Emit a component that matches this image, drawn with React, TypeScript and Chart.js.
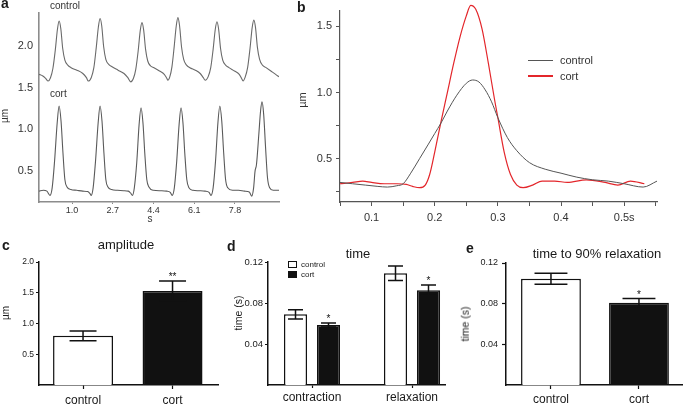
import React, { useEffect, useRef } from "react";
import { Chart, registerables } from "chart.js";

Chart.register(...registerables);

const FONT = '"Liberation Sans", Arial, Helvetica, sans-serif';

// ---------------- Panel a: sarcomere traces ----------------
const aXTicks = [1.0, 2.7, 4.4, 6.1, 7.8];
const aYTicks = [0.5, 1.0, 1.5, 2.0];
const aControlT = [
  -0.38, -0.22, -0.1, 0.0, 0.1, 0.2, 0.3, 0.39, 0.46, 0.53, 0.61, 0.7, 0.82, 0.96, 1.2, 1.45, 1.6, 1.68,
  1.8, 1.91, 2.01, 2.1, 2.17, 2.24, 2.32, 2.41, 2.53, 2.67, 2.92, 3.17, 3.33, 3.45,
  3.56, 3.66, 3.76, 3.85, 3.92, 3.99, 4.07, 4.16, 4.28, 4.42, 4.65, 4.85, 4.96, 5.0,
  5.08, 5.17, 5.26, 5.35, 5.42, 5.49, 5.57, 5.66, 5.78, 5.92, 6.15, 6.35, 6.48, 6.56,
  6.68, 6.79, 6.89, 6.98, 7.05, 7.12, 7.2, 7.29, 7.41, 7.55, 7.78, 7.98, 8.08, 8.14,
  8.22, 8.33, 8.43, 8.52, 8.59, 8.66, 8.74, 8.83, 8.95, 9.1, 9.3, 9.5, 9.64,
];
const aControlV = [
  1.66, 1.64, 1.61, 1.58, 1.62, 1.73, 1.95, 2.2, 2.3, 2.21, 1.97, 1.83, 1.77, 1.74, 1.71, 1.67, 1.62, 1.58,
  1.62, 1.74, 1.98, 2.23, 2.33, 2.24, 1.99, 1.84, 1.78, 1.75, 1.71, 1.67, 1.62, 1.57,
  1.61, 1.72, 1.94, 2.19, 2.28, 2.19, 1.96, 1.82, 1.76, 1.74, 1.7, 1.66, 1.61, 1.59,
  1.63, 1.75, 1.98, 2.24, 2.34, 2.24, 1.99, 1.84, 1.77, 1.74, 1.71, 1.67, 1.62, 1.59,
  1.63, 1.74, 1.96, 2.2, 2.29, 2.2, 1.97, 1.83, 1.77, 1.74, 1.7, 1.66, 1.61, 1.58,
  1.62, 1.74, 1.97, 2.22, 2.31, 2.22, 1.98, 1.84, 1.77, 1.74, 1.7, 1.66, 1.63,
];
const aCortT = [
  -0.38, -0.2, -0.05, 0.08, 0.17, 0.27, 0.38, 0.46, 0.54, 0.62, 0.7, 0.79, 0.95, 1.2, 1.45, 1.65, 1.75,
  1.8, 1.88, 1.98, 2.09, 2.17, 2.25, 2.33, 2.41, 2.5, 2.65, 2.9, 3.15, 3.35, 3.45,
  3.52, 3.6, 3.7, 3.8, 3.88, 3.96, 4.04, 4.12, 4.21, 4.4, 4.7, 4.95, 5.1,
  5.18, 5.27, 5.37, 5.47, 5.55, 5.63, 5.71, 5.79, 5.88, 6.05, 6.3, 6.55, 6.72,
  6.8, 6.89, 6.99, 7.09, 7.17, 7.25, 7.33, 7.41, 7.5, 7.7, 7.95, 8.2, 8.4,
  8.5, 8.58, 8.64, 8.7, 8.8, 8.87, 8.93, 9.0, 9.08, 9.16, 9.25, 9.4, 9.64,
];
const aCortV = [
  0.26, 0.27, 0.26, 0.21, 0.3, 0.62, 1.08, 1.28, 1.1, 0.72, 0.4, 0.31, 0.28, 0.27, 0.26, 0.255, 0.23,
  0.21, 0.3, 0.62, 1.08, 1.28, 1.1, 0.72, 0.4, 0.31, 0.28, 0.27, 0.265, 0.26, 0.235,
  0.21, 0.3, 0.6, 1.06, 1.26, 1.08, 0.7, 0.4, 0.31, 0.27, 0.265, 0.26, 0.245,
  0.21, 0.3, 0.62, 1.06, 1.26, 1.08, 0.7, 0.4, 0.3, 0.27, 0.265, 0.26, 0.245,
  0.21, 0.3, 0.62, 1.08, 1.28, 1.1, 0.72, 0.4, 0.3, 0.27, 0.27, 0.26, 0.25,
  0.2, 0.3, 0.5, 0.58, 0.95, 1.22, 1.33, 1.18, 0.78, 0.42, 0.3, 0.27, 0.27,
];

// ---------------- Panel b: averaged transient ----------------
const bXTicks = [0.05, 0.1, 0.15, 0.2, 0.25, 0.3, 0.35, 0.4, 0.45, 0.5, 0.55];
const bYTicks = [0.25, 0.5, 0.75, 1.0, 1.25, 1.5];
const bControlT = [
  0.05, 0.07, 0.09, 0.11, 0.125, 0.14, 0.15, 0.162, 0.176, 0.19, 0.2, 0.21, 0.22, 0.235, 0.25, 0.26,
  0.27, 0.28, 0.29, 0.3, 0.315, 0.33, 0.35, 0.375, 0.4, 0.425, 0.45, 0.475, 0.5, 0.53, 0.552,
];
const bControlV = [
  0.32, 0.31, 0.3, 0.29, 0.285, 0.295, 0.31, 0.39, 0.5, 0.61, 0.69, 0.77, 0.86, 0.98, 1.07, 1.095,
  1.08, 1.02, 0.93, 0.81, 0.66, 0.56, 0.47, 0.42, 0.39, 0.36, 0.34, 0.33, 0.31, 0.285, 0.33,
];
const bCortT = [
  0.05, 0.07, 0.086, 0.1, 0.12, 0.14, 0.155, 0.165, 0.176, 0.185, 0.192, 0.2, 0.21, 0.22, 0.23, 0.24,
  0.25, 0.257, 0.265, 0.275, 0.285, 0.295, 0.3, 0.31, 0.32, 0.33, 0.34, 0.355, 0.37, 0.39, 0.41,
  0.44, 0.47, 0.49, 0.51, 0.532,
];
const bCortV = [
  0.31, 0.32, 0.33, 0.32, 0.31, 0.31, 0.305, 0.29, 0.28, 0.3, 0.38, 0.55, 0.78, 1.0, 1.22, 1.42,
  1.58, 1.66, 1.63, 1.48, 1.22, 0.94, 0.81, 0.55, 0.38, 0.3, 0.28, 0.3, 0.33, 0.33, 0.32,
  0.34, 0.32, 0.3, 0.33, 0.31,
];

// ---------------- Panel c: amplitude ----------------
const cGroups = ["control", "cort"];
const cMeans = [0.8, 1.53];
const cErrs = [0.08, 0.16];
const cSig = ["", "**"];
const cYTicks = [0.5, 1.0, 1.5, 2.0];

// ---------------- Panel d: time ----------------
const dGroups = ["contraction", "relaxation"];
const dControlMeans = [0.069, 0.109];
const dControlErrs = [0.0045, 0.007];
const dCortMeans = [0.0585, 0.0925];
const dCortErrs = [0.002, 0.005];
const dCortSig = ["*", "*"];
const dYTicks = [0.04, 0.08, 0.12];

// ---------------- Panel e: time to 90% relaxation ----------------
const eGroups = ["control", "cort"];
const eMeans = [0.1045, 0.081];
const eErrs = [0.0053, 0.004];
const eSig = ["", "*"];
const eYTicks = [0.04, 0.08, 0.12];

// ---------------- helpers ----------------
const CW = 685;
const CH = 405;
const pad = (l: number, r: number, t: number, b: number, yW: number, xH: number) => ({
  left: l - yW,
  right: CW - r,
  top: t,
  bottom: CH - b - xH,
});
const setTicks = (vals: number[]) => (s: any) => {
  s.ticks = vals.map((v) => ({ value: v }));
};
const fixW = (w: number) => (s: any) => {
  s.width = w;
};
const fixH = (h: number) => (s: any) => {
  s.height = h;
};
const pts = (xs: number[], ys: number[]) => xs.map((x, i) => ({ x, y: ys[i] }));

const baseOpts = (padding: any) => ({
  animation: false as const,
  responsive: false,
  events: [] as any[],
  layout: { padding },
  plugins: { legend: { display: false }, tooltip: { enabled: false }, title: { display: false } },
});

function errorBars(errs: number[][], sigs: string[][], capFrac: number, sigSize: number) {
  return {
    id: "errorBars",
    afterDatasetsDraw(chart: any) {
      const ctx = chart.ctx;
      const ys = chart.scales.y;
      chart.data.datasets.forEach((ds: any, di: number) => {
        const meta = chart.getDatasetMeta(di);
        meta.data.forEach((bar: any, i: number) => {
          const m = ds.data[i].y;
          const e = errs[di][i];
          const x = bar.x;
          const cw = bar.width * capFrac;
          const top = ys.getPixelForValue(m + e);
          const bot = ys.getPixelForValue(m - e);
          ctx.save();
          ctx.strokeStyle = "#111";
          ctx.lineWidth = 1.5;
          ctx.beginPath();
          ctx.moveTo(x, top);
          ctx.lineTo(x, bot);
          ctx.moveTo(x - cw / 2, top);
          ctx.lineTo(x + cw / 2, top);
          ctx.moveTo(x - cw / 2, bot);
          ctx.lineTo(x + cw / 2, bot);
          ctx.stroke();
          const s = sigs[di] && sigs[di][i];
          if (s) {
            ctx.fillStyle = "#111";
            ctx.font = `${sigSize}px ${FONT}`;
            ctx.textAlign = "center";
            ctx.textBaseline = "alphabetic";
            ctx.fillText(s, x, top - 1);
          }
          ctx.restore();
        });
      });
    },
  };
}

const barAxisX = (min: number, max: number, labels: string[], tickLen: number, tickPad: number, fontSize: number) => ({
  type: "linear" as const,
  min,
  max,
  bounds: "data" as const,
  offset: false,
  afterBuildTicks: setTicks([1, 2]),
  afterFit: fixH(20),
  ticks: {
    callback: (v: any) => labels[Math.round(Number(v)) - 1],
    font: { family: FONT, size: fontSize },
    color: "#1a1a1a",
    padding: tickPad,
    maxRotation: 0,
    autoSkip: false,
  },
  grid: {
    display: true,
    offset: false,
    drawOnChartArea: false,
    tickLength: tickLen,
    tickColor: "#111",
    tickWidth: 1.2,
  },
  border: { display: true, color: "#111", width: 1.5 },
});

const barAxisY = (max: number, ticksVals: number[], digits: number, fontSize: number, tickLen: number, tickPad: number) => ({
  type: "linear" as const,
  min: 0,
  max,
  bounds: "data" as const,
  afterBuildTicks: setTicks(ticksVals),
  afterFit: fixW(30),
  ticks: {
    callback: (v: any) => Number(v).toFixed(digits),
    font: { family: FONT, size: fontSize },
    color: "#1a1a1a",
    padding: tickPad,
  },
  grid: {
    display: true,
    drawOnChartArea: false,
    tickLength: tickLen,
    tickColor: "#111",
    tickWidth: 1.2,
  },
  border: { display: true, color: "#111", width: 1.5 },
});

// ---------------- chart configs ----------------
function configA(): any {
  return {
    type: "line",
    data: {
      datasets: [
        { data: pts(aControlT, aControlV), borderColor: "#6a6a6a", borderWidth: 1.1, pointRadius: 0, cubicInterpolationMode: "monotone", fill: false },
        { data: pts(aCortT, aCortV), borderColor: "#5a5a5a", borderWidth: 1.1, pointRadius: 0, cubicInterpolationMode: "monotone", fill: false },
      ],
    },
    options: {
      ...baseOpts(pad(39, 279, 7, 202, 34, 20)),
      scales: {
        x: {
          type: "linear",
          min: -0.38,
          max: 9.64,
          bounds: "data",
          afterBuildTicks: setTicks(aXTicks),
          afterFit: fixH(20),
          ticks: { callback: (v: any) => Number(v).toFixed(1), font: { family: FONT, size: 9 }, color: "#333", padding: 1, maxRotation: 0, autoSkip: false },
          grid: { display: true, drawOnChartArea: false, tickLength: 2, tickColor: "#888", tickWidth: 1 },
          border: { display: true, color: "#8c8c8c", width: 1.6 },
        },
        y: {
          type: "linear",
          min: 0.13,
          max: 2.4,
          bounds: "data",
          afterBuildTicks: setTicks(aYTicks),
          afterFit: fixW(34),
          ticks: { callback: (v: any) => Number(v).toFixed(1), font: { family: FONT, size: 11 }, color: "#333", padding: 6 },
          grid: { display: true, drawOnChartArea: false, drawTicks: false },
          border: { display: true, color: "#8c8c8c", width: 1.6 },
        },
      },
    },
  };
}

function configB(): any {
  return {
    type: "line",
    data: {
      datasets: [
        { data: pts(bControlT, bControlV), borderColor: "#555", borderWidth: 1, pointRadius: 0, cubicInterpolationMode: "monotone", fill: false, clip: 10 },
        { data: pts(bCortT, bCortV), borderColor: "#e3262b", borderWidth: 1.2, pointRadius: 0, cubicInterpolationMode: "monotone", fill: false, clip: 10 },
      ],
    },
    options: {
      ...baseOpts(pad(340, 657, 8, 202, 34, 20)),
      scales: {
        x: {
          type: "linear",
          min: 0.05,
          max: 0.552,
          bounds: "data",
          afterBuildTicks: setTicks(bXTicks),
          afterFit: fixH(20),
          ticks: {
            callback: (v: any) => {
              const n = Number(v) * 10;
              const r = Math.round(n);
              if (Math.abs(n - r) > 1e-6) return "";
              return r === 5 ? "0.5s" : (r / 10).toFixed(1);
            },
            font: { family: FONT, size: 11 },
            color: "#333",
            padding: 5,
            maxRotation: 0,
            autoSkip: false,
          },
          grid: { display: true, drawOnChartArea: false, tickLength: 4, tickColor: "#555", tickWidth: 1 },
          border: { display: true, color: "#555", width: 1.2 },
        },
        y: {
          type: "linear",
          min: 0.172,
          max: 1.62,
          bounds: "data",
          afterBuildTicks: setTicks(bYTicks),
          afterFit: fixW(34),
          ticks: {
            callback: (v: any) => {
              const n = Number(v) * 2;
              return Math.abs(n - Math.round(n)) < 1e-6 ? Number(v).toFixed(1) : "";
            },
            font: { family: FONT, size: 11 },
            color: "#333",
            padding: 4,
          },
          grid: { display: true, drawOnChartArea: false, tickLength: 4, tickColor: "#555", tickWidth: 1 },
          border: { display: true, color: "#555", width: 1.2 },
        },
      },
    },
  };
}

function configC(): any {
  return {
    type: "bar",
    data: {
      datasets: [
        {
          data: pts([1, 2], cMeans),
          backgroundColor: ["#ffffff", "#111111"],
          borderColor: "#111",
          borderWidth: 1.5,
          categoryPercentage: 1,
          barPercentage: 0.67,
        },
      ],
    },
    options: {
      ...baseOpts(pad(39, 218, 262, 385, 30, 20)),
      scales: {
        x: barAxisX(0.508, 2.508, cGroups, 4, 4, 12),
        y: barAxisY(2.0, cYTicks, 1, 8.5, 3, 2),
      },
    },
    plugins: [errorBars([cErrs], [cSig], 0.45, 10)],
  };
}

function configD(): any {
  return {
    type: "bar",
    data: {
      datasets: [
        {
          data: pts([1, 2], dControlMeans),
          backgroundColor: "#ffffff",
          borderColor: "#111",
          borderWidth: 1.5,
          categoryPercentage: 0.66,
          barPercentage: 0.7,
        },
        {
          data: pts([1, 2], dCortMeans),
          backgroundColor: "#111111",
          borderColor: "#111",
          borderWidth: 1.5,
          categoryPercentage: 0.66,
          barPercentage: 0.7,
        },
      ],
    },
    options: {
      ...baseOpts(pad(268, 445, 262, 385, 30, 20)),
      scales: {
        x: barAxisX(0.56, 2.33, dGroups, 3, 2, 12),
        y: barAxisY(0.12, dYTicks, 2, 9.5, 3, 2),
      },
    },
    plugins: [errorBars([dControlErrs, dCortErrs], [[], dCortSig], 0.65, 10)],
  };
}

function configE(): any {
  return {
    type: "bar",
    data: {
      datasets: [
        {
          data: pts([1, 2], eMeans),
          backgroundColor: ["#ffffff", "#111111"],
          borderColor: "#111",
          borderWidth: 1.5,
          categoryPercentage: 1,
          barPercentage: 0.68,
        },
      ],
    },
    options: {
      ...baseOpts(pad(506, 682, 263, 385, 30, 20)),
      scales: {
        x: barAxisX(0.489, 2.489, eGroups, 4, 3, 12),
        y: barAxisY(0.12, eYTicks, 2, 9, 4, 4),
      },
    },
    plugins: [errorBars([eErrs], [eSig], 0.55, 10)],
  };
}

// ---------------- text helpers ----------------
type TP = { x: number; y: number; s: number; text: string; mid?: boolean; bold?: boolean; color?: string };
const Txt = ({ x, y, s, text, mid, bold, color }: TP) => (
  <div
    style={{
      position: "absolute",
      left: x,
      top: y - 0.8465 * s,
      fontSize: s,
      lineHeight: `${s}px`,
      fontFamily: FONT,
      fontWeight: bold ? 700 : 400,
      color: color || "#1a1a1a",
      whiteSpace: "nowrap",
      transform: mid ? "translateX(-50%)" : undefined,
    }}
  >
    {text}
  </div>
);
const RotTxt = ({ x, y, s, text, color }: TP) => (
  <div
    style={{
      position: "absolute",
      left: x,
      top: y,
      fontSize: s,
      lineHeight: `${s}px`,
      fontFamily: FONT,
      color: color || "#1a1a1a",
      whiteSpace: "nowrap",
      transform: "translate(-50%, -50%) rotate(-90deg)",
    }}
  >
    {text}
  </div>
);

export default function App() {
  const refs = [useRef<HTMLCanvasElement>(null), useRef<HTMLCanvasElement>(null), useRef<HTMLCanvasElement>(null), useRef<HTMLCanvasElement>(null), useRef<HTMLCanvasElement>(null)];
  useEffect(() => {
    const builders = [configA, configB, configC, configD, configE];
    const charts = builders.map((b, i) => new Chart(refs[i].current as HTMLCanvasElement, b()));
    return () => charts.forEach((c) => c.destroy());
  }, []);

  const canvasStyle: React.CSSProperties = { position: "absolute", left: 0, top: 0, width: CW, height: CH };

  return (
    <div style={{ position: "fixed", left: 0, top: 0, width: CW, height: CH, background: "#fff", overflow: "hidden" }}>
      {refs.map((r, i) => (
        <canvas key={i} ref={r} width={CW} height={CH} style={canvasStyle} />
      ))}
      {/* panel letters */}
      <Txt x={1} y={8} s={14} bold text="a" />
      <Txt x={297} y={12} s={14} bold text="b" />
      <Txt x={2} y={250} s={14} bold text="c" />
      <Txt x={227} y={251} s={14} bold text="d" />
      <Txt x={466} y={253} s={14} bold text="e" />

      {/* panel a */}
      <Txt x={50} y={9} s={10} text="control" color="#333" />
      <Txt x={50} y={97} s={10} text="cort" color="#333" />
      <RotTxt x={5} y={116} s={10} text="µm" color="#333" />
      <Txt x={150} y={222} s={10} mid text="s" color="#333" />

      {/* panel b */}
      <RotTxt x={302} y={100} s={11} text="µm" color="#333" />
      <div style={{ position: "absolute", left: 528, top: 59.5, width: 25, height: 1.5, background: "#555" }} />
      <div style={{ position: "absolute", left: 528, top: 75, width: 25, height: 1.5, background: "#e3262b" }} />
      <Txt x={560} y={64.5} s={11} text="control" color="#333" />
      <Txt x={560} y={80} s={11} text="cort" color="#333" />

      {/* panel c */}
      <Txt x={126} y={249} s={13} mid text="amplitude" />
      <RotTxt x={6} y={313} s={10} text="µm" />

      {/* panel d */}
      <Txt x={358} y={258} s={13} mid text="time" />
      <RotTxt x={238} y={313} s={10.5} text="time (s)" />
      <div style={{ position: "absolute", left: 288, top: 261, width: 9, height: 7, boxSizing: "border-box", border: "1px solid #111", background: "#fff" }} />
      <div style={{ position: "absolute", left: 288, top: 271, width: 9, height: 7, background: "#111" }} />
      <Txt x={301} y={268} s={8} text="control" />
      <Txt x={301} y={278} s={8} text="cort" />

      {/* panel e */}
      <Txt x={597} y={258} s={13} mid text="time to 90% relaxation" />
      <RotTxt x={465} y={324} s={10.5} text="time (s)" />
    </div>
  );
}
